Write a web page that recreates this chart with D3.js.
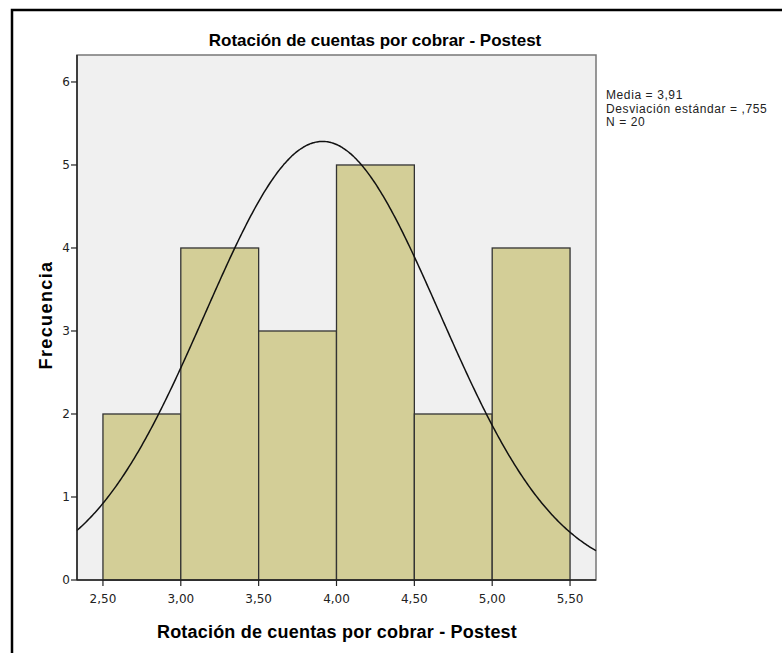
<!DOCTYPE html>
<html>
<head>
<meta charset="utf-8">
<script src="https://cdn.jsdelivr.net/npm/d3@7"></script>
<style>
  body { margin: 0; background: #fff; }
  text { font-family: "Liberation Sans", Arial, sans-serif; }
  .tick-label { font-family: "DejaVu Sans", sans-serif; font-size: 12px; fill: #222; }
</style>
</head>
<body>
<div id="chart"></div>
<script>
// histogram bins (lower edge) and counts
const binStarts = [2.5, 3.0, 3.5, 4.0, 4.5, 5.0];
const binWidth = 0.5;
const counts = [2, 4, 3, 5, 2, 4];
const xTicks = [2.5, 3.0, 3.5, 4.0, 4.5, 5.0, 5.5];
const yTicks = [0, 1, 2, 3, 4, 5, 6];
const mean = 3.91;
const sd = 0.755;
const n = 20;
const statLines = ["Media = 3,91", "Desviación estándar = ,755", "N = 20"];

const width = 782, height = 653;
const plot = {left: 77, top: 55, right: 596, bottom: 580};

const svg = d3.select("#chart").append("svg")
    .attr("width", width)
    .attr("height", height);

// outer frame (only top and left visible)
svg.append("path")
    .attr("d", `M12,${height} L12,10 L${width},10`)
    .attr("fill", "none")
    .attr("stroke", "#000")
    .attr("stroke-width", 2.5);

const x = d3.scaleLinear()
    .domain([2.5 - 1/6, 5.5 + 1/6])
    .range([plot.left, plot.right]);

const y = d3.scaleLinear()
    .domain([0, 6.325])
    .range([plot.bottom, plot.top]);

// plot background
svg.append("rect")
    .attr("x", plot.left)
    .attr("y", plot.top)
    .attr("width", plot.right - plot.left)
    .attr("height", plot.bottom - plot.top)
    .attr("fill", "#f0f0f0")
    .attr("stroke", "#777")
    .attr("stroke-width", 1.5);

// bars
svg.selectAll(".bar")
    .data(binStarts.map((b, i) => ({b, c: counts[i]})))
    .join("rect")
    .attr("class", "bar")
    .attr("x", d => x(d.b))
    .attr("y", d => y(d.c))
    .attr("width", d => x(d.b + binWidth) - x(d.b))
    .attr("height", d => y(0) - y(d.c))
    .attr("fill", "#d3ce97")
    .attr("stroke", "#333")
    .attr("stroke-width", 1.3);

// normal curve
const curveXs = d3.range(0, 401).map(i => x.domain()[0] + i * (x.domain()[1] - x.domain()[0]) / 400);
const normal = v => n * binWidth / (sd * Math.sqrt(2 * Math.PI)) * Math.exp(-0.5 * ((v - mean) / sd) ** 2);

svg.append("path")
    .datum(curveXs)
    .attr("d", d3.line().x(d => x(d)).y(d => y(normal(d))).curve(d3.curveBasis))
    .attr("fill", "none")
    .attr("stroke", "#111")
    .attr("stroke-width", 1.5);

// axes lines
svg.append("line")
    .attr("x1", plot.left).attr("x2", plot.left)
    .attr("y1", plot.top).attr("y2", plot.bottom)
    .attr("stroke", "#222").attr("stroke-width", 1.5);
svg.append("line")
    .attr("x1", plot.left).attr("x2", plot.right)
    .attr("y1", plot.bottom).attr("y2", plot.bottom)
    .attr("stroke", "#222").attr("stroke-width", 1.5);

// y ticks
const yAxis = svg.append("g");
yAxis.selectAll("line")
    .data(yTicks)
    .join("line")
    .attr("x1", plot.left - 6).attr("x2", plot.left)
    .attr("y1", d => y(d)).attr("y2", d => y(d))
    .attr("stroke", "#222").attr("stroke-width", 1.2);
yAxis.selectAll("text")
    .data(yTicks)
    .join("text")
    .attr("class", "tick-label")
    .attr("x", plot.left - 7)
    .attr("y", d => y(d))
    .attr("dy", "0.36em")
    .attr("text-anchor", "end")
    .text(d => d);

// x ticks
const xAxis = svg.append("g");
xAxis.selectAll("line")
    .data(xTicks)
    .join("line")
    .attr("x1", d => x(d)).attr("x2", d => x(d))
    .attr("y1", plot.bottom).attr("y2", plot.bottom + 6)
    .attr("stroke", "#222").attr("stroke-width", 1.2);
xAxis.selectAll("text")
    .data(xTicks)
    .join("text")
    .attr("class", "tick-label")
    .attr("x", d => x(d))
    .attr("y", plot.bottom + 23)
    .attr("text-anchor", "middle")
    .text(d => d.toFixed(2).replace(".", ","));

// title
svg.append("text")
    .attr("x", 375)
    .attr("y", 46)
    .attr("text-anchor", "middle")
    .style("font-size", "17px")
    .style("font-weight", "bold")
    .text("Rotación de cuentas por cobrar - Postest");

// axis labels
svg.append("text")
    .attr("x", 337)
    .attr("y", 638)
    .attr("text-anchor", "middle")
    .style("font-size", "18px")
    .style("font-weight", "bold")
    .style("letter-spacing", "0.2px")
    .text("Rotación de cuentas por cobrar - Postest");

svg.append("text")
    .attr("transform", `translate(52, 315) rotate(-90)`)
    .attr("text-anchor", "middle")
    .style("font-size", "18px")
    .style("font-weight", "bold")
    .style("letter-spacing", "1.4px")
    .text("Frecuencia");

// stats
svg.append("g").selectAll("text")
    .data(statLines)
    .join("text")
    .attr("x", 606)
    .attr("y", (d, i) => 99 + i * 13.5)
    .style("font-size", "12px")
    .style("letter-spacing", "0.6px")
    .attr("fill", "#222")
    .text(d => d);
</script>
</body>
</html>
